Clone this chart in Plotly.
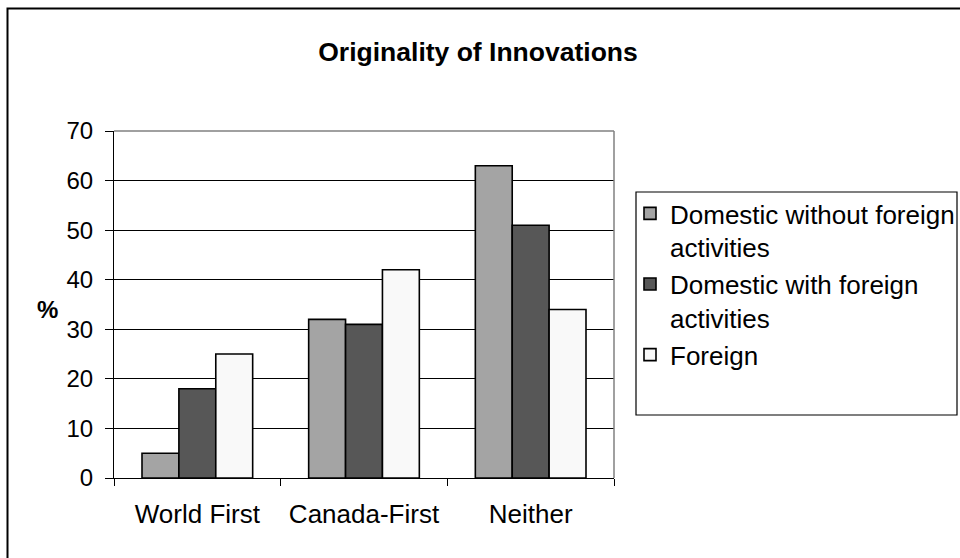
import plotly.graph_objects as go

categories = ["World First", "Canada-First", "Neither"]
series_names = ["Domestic without foreign<br>activities", "Domestic with foreign<br>activities", "Foreign"]
dom_without = [5, 32, 63]
dom_with = [18, 31, 51]
foreign = [25, 42, 34]
y_ticks = [0, 10, 20, 30, 40, 50, 60, 70]

colors = ["#A4A4A4", "#575757", "#F9F9F9"]
values = [dom_without, dom_with, foreign]

FONT = "Arial, Liberation Sans, sans-serif"

fig = go.Figure()
for name, vals, col in zip(series_names, values, colors):
    fig.add_trace(go.Bar(
        x=categories, y=vals, name=name,
        marker=dict(color=col, line=dict(color="#000000", width=1.6)),
    ))

L, R, T, B = 114, 346, 131, 80
W, H = 960, 558
pw, ph = W - L - R, H - T - B

def px_x(x):
    return (x - L) / pw

def px_y(y):
    return (H - B - y) / ph

fig.update_layout(
    width=W, height=H,
    margin=dict(l=L, r=R, t=T, b=B, pad=0, autoexpand=False),
    paper_bgcolor="white", plot_bgcolor="white",
    barmode="group", bargap=0.336, bargroupgap=0,
    font=dict(family=FONT, color="#000000"),
    title=dict(text="<b>Originality of Innovations</b>", x=478 / W, xanchor="center",
               y=1 - 52 / H, yanchor="middle", font=dict(size=26.5, family=FONT, color="#000")),
    legend=dict(x=px_x(630), y=px_y(190), xanchor="left", yanchor="top",
                font=dict(size=26, family=FONT, color="#000"),
                bgcolor="rgba(0,0,0,0)", borderwidth=0, valign="top",
                traceorder="normal", tracegroupgap=0),
    showlegend=True,
)
fig.update_xaxes(
    showline=True, linecolor="#000", linewidth=1,
    ticks="outside", tickson="boundaries", ticklen=7, tickcolor="#000",
    tickfont=dict(size=26, family=FONT, color="#000"), ticklabelstandoff=13,
    showgrid=False,
)
fig.update_yaxes(
    range=[0, 70], tickvals=y_ticks, showline=True, linecolor="#000", linewidth=1,
    ticks="outside", ticklen=8, tickcolor="#000",
    tickfont=dict(size=24, family=FONT, color="#000"), ticklabelstandoff=7,
    showgrid=True, gridcolor="#000", gridwidth=1, zeroline=False,
)
# plot area top/right border (grey)
fig.add_shape(type="line", xref="paper", yref="paper", x0=0, x1=1, y0=1, y1=1,
              line=dict(color="#808080", width=1.5), layer="above")
fig.add_shape(type="line", xref="paper", yref="paper", x0=1, x1=1, y0=0, y1=1,
              line=dict(color="#808080", width=1.5), layer="above")
# legend box
fig.add_shape(type="rect", xref="paper", yref="paper",
              x0=px_x(636), x1=px_x(957), y0=px_y(415), y1=px_y(192),
              line=dict(color="#000", width=1.2), fillcolor="rgba(0,0,0,0)", layer="below")
# outer chart border
fig.add_shape(type="rect", xref="paper", yref="paper",
              x0=px_x(7.5), x1=px_x(975), y0=px_y(575), y1=px_y(8.5),
              line=dict(color="#000", width=2), fillcolor="rgba(0,0,0,0)", layer="below")
# y-axis title "%"
fig.add_annotation(text="<b>%</b>", xref="paper", yref="paper", x=px_x(47), y=px_y(309),
                   xanchor="center", yanchor="middle", showarrow=False,
                   font=dict(size=24, family=FONT, color="#000"))

fig.write_html("out.html", config={"displayModeBar": False},
               post_script="document.body.style.margin='0';document.body.style.overflow='hidden';")
